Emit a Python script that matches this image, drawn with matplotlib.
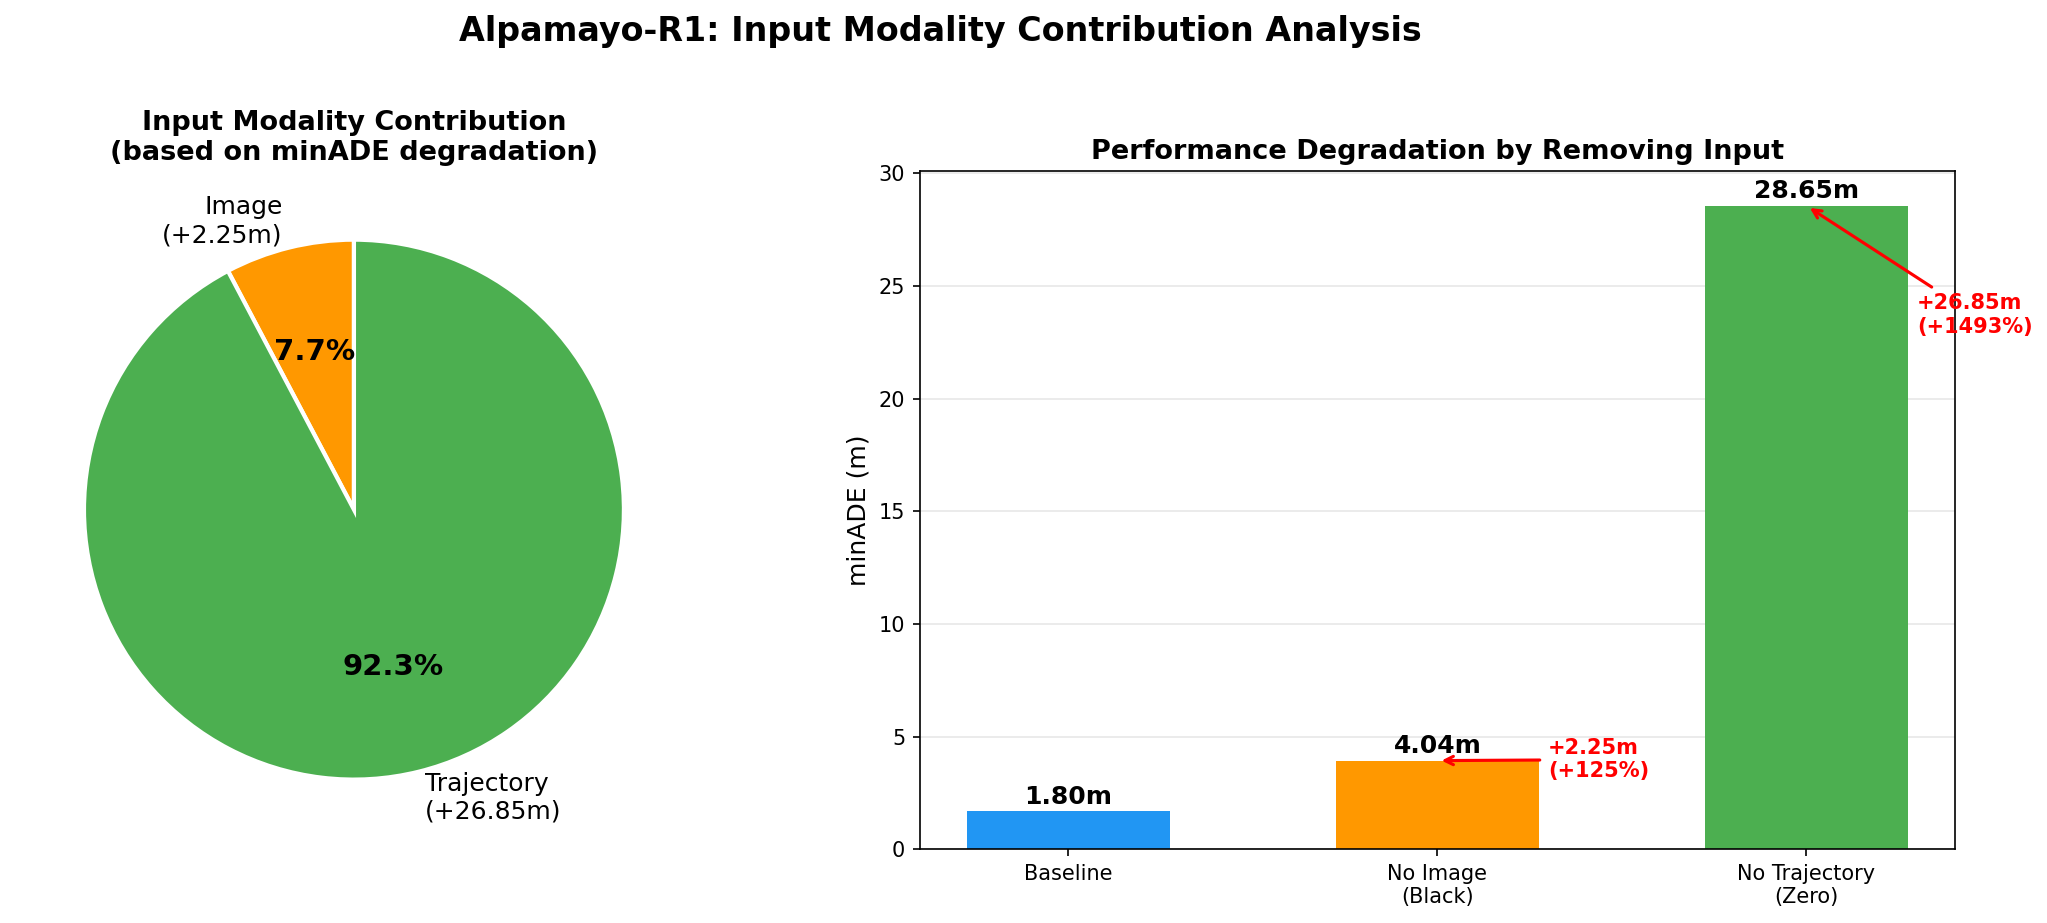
import matplotlib
matplotlib.use("Agg")
import matplotlib.pyplot as plt

# pie data: minADE increase when removing each input (m)
pie_labels = ["Image\n(+2.25m)", "Trajectory\n(+26.85m)"]
pie_values = [2.25, 26.85]
pie_colors = ["#FF9800", "#4CAF50"]

# bar data
bar_names = ["Baseline", "No Image\n(Black)", "No Trajectory\n(Zero)"]
bar_heights = [1.70, 3.94, 28.55]
bar_texts = ["1.80m", "4.04m", "28.65m"]
bar_colors = ["#2196F3", "#FF9800", "#4CAF50"]
delta_texts = ["+2.25m\n(+125%)", "+26.85m\n(+1493%)"]
delta_text_y = [3.98, 23.7]

fig = plt.figure(figsize=(2047 / 150, 923 / 150), dpi=150)
fig.suptitle("Alpamayo-R1: Input Modality Contribution Analysis",
             fontsize=16, fontweight="bold", x=0.4595, y=0.984)

# Left: pie
ax1 = fig.add_axes([0.00806, 0.0822, 0.3297, 0.7313])
wedges, texts, autotexts = ax1.pie(
    pie_values, labels=pie_labels, colors=pie_colors, autopct="%1.1f%%",
    startangle=90, wedgeprops=dict(edgecolor="white", linewidth=2),
    textprops=dict(fontsize=12))
for t in autotexts:
    t.set_fontsize(14)
    t.set_fontweight("bold")
ax1.set_title("Input Modality Contribution\n(based on minADE degradation)",
              fontsize=13, fontweight="bold")

# Right: bars
ax2 = fig.add_axes([0.4494, 0.0797, 0.5056, 0.7347])
x = range(len(bar_names))
bars = ax2.bar(x, bar_heights, width=0.55, color=bar_colors)
ax2.set_xticks(list(x))
ax2.set_xticklabels(bar_names)
ax2.set_ylabel("minADE (m)", fontsize=12)
ax2.set_title("Performance Degradation by Removing Input",
              fontsize=13, fontweight="bold")
ax2.set_ylim(0, max(bar_heights) * 1.0535)
ax2.grid(axis="y", alpha=0.3)
ax2.set_axisbelow(True)

for bar, txt in zip(bars, bar_texts):
    ax2.text(bar.get_x() + bar.get_width() / 2, bar.get_height() + 0.1, txt,
             ha="center", va="bottom", fontsize=12, fontweight="bold")

for i, (txt, ty) in enumerate(zip(delta_texts, delta_text_y), start=1):
    ax2.annotate(txt, xy=(i, bar_heights[i]), xytext=(i + 0.3, ty),
                 fontsize=10, fontweight="bold", color="red", va="center",
                 arrowprops=dict(arrowstyle="->", color="red", lw=1.5))

fig.savefig("out.png", dpi=150)
